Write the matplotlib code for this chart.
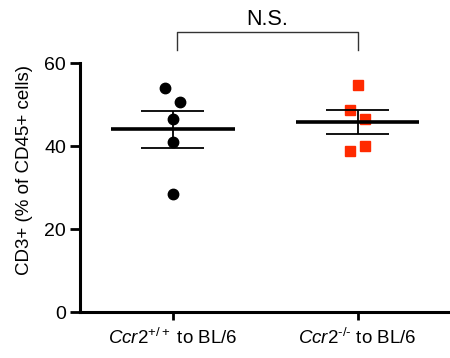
import numpy as np
import matplotlib.pyplot as plt

plt.rcParams['font.family'] = ['Liberation Sans', 'DejaVu Sans']
plt.rcParams['mathtext.fontset'] = 'custom'
plt.rcParams['mathtext.rm'] = 'Liberation Sans'
plt.rcParams['mathtext.it'] = 'Liberation Sans:italic'

# values (% CD3+ of CD45+ cells)
wt_vals = [53.9, 50.6, 46.4, 41.0, 28.4]
ko_vals = [54.7, 48.8, 46.4, 40.1, 38.7]
wt_jitter = [-0.04, 0.04, 0.0, 0.0, 0.0]
ko_jitter = [0.0, -0.04, 0.04, 0.04, -0.04]
group_labels = ['$\\it{Ccr2}^{\\rm{+/+}}$ to BL/6', '$\\it{Ccr2}^{\\rm{\u2010/\u2010}}$ to BL/6']

fig = plt.figure(figsize=(4.5, 3.58), dpi=100)
ax = fig.add_axes([0.178, 0.128, 0.822, 0.696])

groups = [(wt_vals, wt_jitter, 'o', 'black'), (ko_vals, ko_jitter, 's', '#ff2a00')]
for i, (vals, jit, mk, col) in enumerate(groups):
    v = np.array(vals)
    ax.plot(i + np.array(jit), v, linestyle='none', marker=mk, color=col,
            markersize=7.5 if mk == 'o' else 7, zorder=3, clip_on=False)
    m = v.mean()
    sem = v.std(ddof=1) / np.sqrt(len(v))
    ax.hlines(m, i - 0.335, i + 0.335, color='black', lw=2.6, zorder=4)
    ax.hlines([m - sem, m + sem], i - 0.17, i + 0.17, color='black', lw=1.3, zorder=4)
    ax.vlines(i, m - sem, m + sem, color='black', lw=1.3, zorder=4)

# significance bracket
ax.plot([0.024, 0.024, 1.0, 1.0], [63.1, 67.5, 67.5, 63.1], color='#333333', lw=1.0, clip_on=False)
ax.text(0.51, 69.2, 'N.S.', ha='center', va='baseline', fontsize=15.5)

ax.set_xlim(-0.5, 1.5)
ax.set_ylim(0, 60)
ax.set_yticks([0, 20, 40, 60])
ax.set_xticks([0, 1])
ax.set_xticklabels(group_labels, fontsize=13.5)
ax.tick_params(axis='y', labelsize=14, width=2, length=7, pad=3)
ax.tick_params(axis='x', width=2, length=6, pad=5)
ax.set_ylabel('CD3+ (% of CD45+ cells)', fontsize=13.5)
ax.yaxis.set_label_coords(-0.128, 0.572)
for s in ['top', 'right']:
    ax.spines[s].set_visible(False)
for s in ['left', 'bottom']:
    ax.spines[s].set_linewidth(2.2)

fig.savefig('out.png', dpi=100)
